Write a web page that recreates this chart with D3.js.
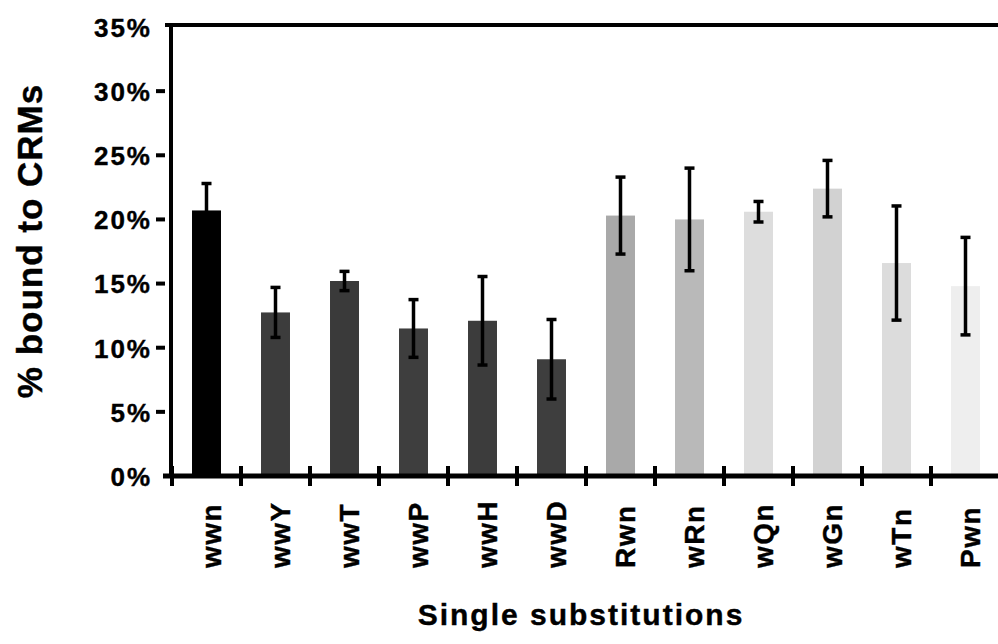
<!DOCTYPE html>
<html>
<head>
<meta charset="utf-8">
<script src="https://cdn.jsdelivr.net/npm/d3@7"></script>
<style>
  body { margin: 0; background: #fff; }
  text { font-family: "Liberation Sans", Arial, Helvetica, sans-serif; font-weight: bold; fill: #000; stroke: #000; stroke-width: 0.4px; }
</style>
</head>
<body>
<div id="canvas"></div>
<script>
// values
var categories = ["wwn", "wwY", "wwT", "wwP", "wwH", "wwD", "Rwn", "wRn", "wQn", "wGn", "wTn", "Pwn"];
var means = [20.7, 12.75, 15.2, 11.5, 12.1, 9.1, 20.3, 20.0, 20.6, 22.4, 16.6, 14.8];
var errors = [2.1, 1.95, 0.75, 2.25, 3.45, 3.1, 3.0, 4.0, 0.8, 2.2, 4.45, 3.8];
var fills = ["#000000", "#3c3c3c", "#3a3a3a", "#3e3e3e", "#3c3c3c", "#3e3e3e",
             "#a9a9a9", "#b9b9b9", "#dddddd", "#d2d2d2", "#dcdcdc", "#eeeeee"];
var yTicks = [0, 5, 10, 15, 20, 25, 30, 35];

var width = 998, height = 644;
var svg = d3.select("#canvas").append("svg")
  .attr("width", width)
  .attr("height", height);

//scales: band steps run past the right edge like the cropped original
var x = d3.scaleBand().domain(categories).range([172, 1000])
  .paddingInner(0.58).paddingOuter(0.29);
var y = d3.scaleLinear().domain([0, 35]).range([476, 27]);
var axisX = 171;

//bars
svg.selectAll("rect.bar")
  .data(categories)
  .enter()
  .append("rect")
  .attr("class", "bar")
  .attr("x", function(d){ return x(d); })
  .attr("width", x.bandwidth())
  .attr("y", function(d, i){ return y(means[i]); })
  .attr("height", function(d, i){ return y(0) - y(means[i]); })
  .attr("fill", function(d, i){ return fills[i]; });

//error bars
var err = svg.selectAll("g.err")
  .data(categories)
  .enter()
  .append("g")
  .attr("class", "err")
  .attr("transform", function(d){ return "translate(" + (x(d) + x.bandwidth()/2) + ",0)"; });
err.append("line")
  .attr("y1", function(d, i){ return y(means[i] + errors[i]); })
  .attr("y2", function(d, i){ return y(means[i] - errors[i]); })
  .attr("stroke", "#000").attr("stroke-width", 3.5);
err.append("line")
  .attr("x1", -5).attr("x2", 5)
  .attr("y1", function(d, i){ return y(means[i] + errors[i]); })
  .attr("y2", function(d, i){ return y(means[i] + errors[i]); })
  .attr("stroke", "#000").attr("stroke-width", 3.5);
err.append("line")
  .attr("x1", -5).attr("x2", 5)
  .attr("y1", function(d, i){ return y(means[i] - errors[i]); })
  .attr("y2", function(d, i){ return y(means[i] - errors[i]); })
  .attr("stroke", "#000").attr("stroke-width", 3.5);

//y axis labels
var yAxis = svg.append("g")
  .attr("class", "yAxis")
  .attr("transform", "translate(" + axisX + ",0)")
  .call(d3.axisLeft(y).tickValues(yTicks).tickFormat(function(d){ return d + "%"; }).tickSize(0).tickPadding(19));
yAxis.select(".domain").remove();
yAxis.selectAll("text")
  .style("font-size", "26px")
  .style("letter-spacing", "2px")
  .attr("dy", "0.36em");

//little dashes left of the axis, with a gap like the original
svg.selectAll("rect.ytick")
  .data(yTicks.filter(function(d){ return d > 0 && d < 35; }))
  .enter()
  .append("rect")
  .attr("class", "ytick")
  .attr("x", axisX - 15)
  .attr("width", 9)
  .attr("y", function(d){ return y(d) - 2; })
  .attr("height", 4)
  .attr("fill", "#000");

//frame lines
svg.append("line").attr("x1", axisX).attr("x2", axisX).attr("y1", 24).attr("y2", 478)
  .attr("stroke", "#000").attr("stroke-width", 4);
svg.append("line").attr("x1", 165).attr("x2", width).attr("y1", y(35) - 2).attr("y2", y(35) - 2)
  .attr("stroke", "#000").attr("stroke-width", 4);
svg.append("line").attr("x1", 163).attr("x2", width).attr("y1", y(0)).attr("y2", y(0))
  .attr("stroke", "#000").attr("stroke-width", 5);

//x axis with rotated labels
var xAxis = svg.append("g")
  .attr("class", "xAxis")
  .attr("transform", "translate(0," + y(0) + ")")
  .call(d3.axisBottom(x).tickSize(0));
xAxis.select(".domain").remove();
xAxis.selectAll("text")
  .style("font-size", "28px")
  .style("letter-spacing", "1.5px")
  .attr("text-anchor", "start")
  .attr("y", 0)
  .attr("dy", "0.36em")
  .attr("transform", "translate(4,92) rotate(-90)");

//tick marks sit on the band boundaries
var bounds = d3.range(categories.length + 1).map(function(i){ return x.range()[0] + i * x.step(); });
svg.selectAll("line.xtick")
  .data(bounds)
  .enter()
  .append("line")
  .attr("class", "xtick")
  .attr("x1", function(d){ return d; })
  .attr("x2", function(d){ return d; })
  .attr("y1", y(0) - 10)
  .attr("y2", y(0) + 10)
  .attr("stroke", "#000")
  .attr("stroke-width", 4);

//axis titles
svg.append("text")
  .attr("transform", "translate(42,241) rotate(-90)")
  .attr("text-anchor", "middle")
  .style("font-size", "35px")
  .style("letter-spacing", "1px")
  .text("% bound to CRMs");
svg.append("text")
  .attr("x", 581)
  .attr("y", 625)
  .attr("text-anchor", "middle")
  .style("font-size", "30px")
  .style("letter-spacing", "2px")
  .text("Single substitutions");
</script>
</body>
</html>
